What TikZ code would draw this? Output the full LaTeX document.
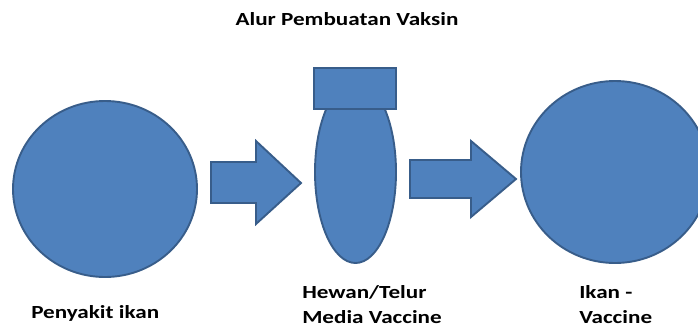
\documentclass[tikz,border=0pt]{standalone}
\usepackage{fontspec}
\setmainfont{Carlito}
\usetikzlibrary{shapes.geometric}
\definecolor{vfill}{HTML}{4F81BD}
\definecolor{vline}{HTML}{385D8A}
\begin{document}
\begin{tikzpicture}[x=1pt, y=-1pt,
    blob/.style={ellipse, draw=vline, fill=vfill, line width=1.9pt, inner sep=0pt},
    block/.style={draw=vline, fill=vfill, line width=1.9pt, line join=miter},
    lbl/.style={font=\bfseries\fontsize{18.5}{25}\selectfont, xscale=1.25, transform shape, inner sep=0pt, align=left}]
      \useasboundingbox (0,0) rectangle (698,330);
      \clip (0,0) rectangle (698,330);
      % Nodes
      \node[blob, minimum width=184pt, minimum height=176pt] at (105, 189) (sick) {};
      \node[blob, minimum width=81pt, minimum height=182pt] at (355.5, 172) (media) {};
      \node[block, minimum width=82pt, minimum height=41pt, inner sep=0pt] at (355, 88.5) (cap) {};
      \node[blob, minimum width=188pt, minimum height=182pt] at (615, 172) (fish) {};

      % Arrows
      \draw[block] (211,162) -- (256,162) -- (256,141) -- (301,183) -- (256,224) -- (256,203) -- (211,203) -- cycle;
      \draw[block] (410,160) -- (471,160) -- (471,141) -- (516,179) -- (471,217) -- (471,198) -- (410,198) -- cycle;

      % Labels
      \node[lbl, anchor=base] at (347, 25) (title) {Alur Pembuatan Vaksin};
      \node[lbl, anchor=base west] at (31, 318) (sicklbl) {Penyakit ikan};
      \node[lbl, anchor=base west] at (302, 323) (medialbl) {Hewan/Telur\\Media Vaccine};
      \node[lbl, anchor=base west] at (579, 323) (fishlbl) {Ikan -\\Vaccine};
    \end{tikzpicture}
\end{document}
